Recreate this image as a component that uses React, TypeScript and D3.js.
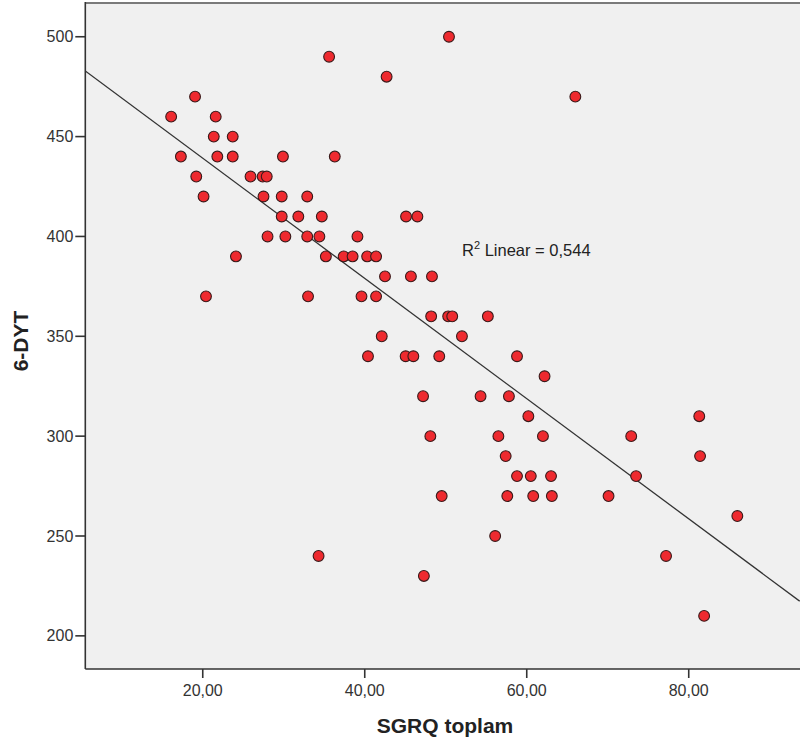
import * as d3 from 'd3';

// SGRQ toplam (x) vs 6-DYT (y)
const sgrq = [
  16.1, 19.05, 21.6, 21.36, 23.7, 17.3, 21.8, 23.7, 29.9, 36.3,
  19.2, 25.9, 27.4, 27.9, 20.1, 27.5, 29.75, 32.9, 29.75, 31.8,
  34.7, 45.1, 46.5, 28.0, 30.2, 32.9, 34.4, 39.1, 24.1, 35.2,
  37.4, 38.5, 40.3, 41.4, 42.5, 45.7, 48.3, 20.4, 33.0, 39.6,
  41.4, 48.2, 50.3, 50.8, 55.2, 42.1, 52.0, 40.4, 45.05, 46.0,
  49.2, 58.8, 62.2, 47.2, 54.3, 57.8, 60.2, 81.3, 48.1, 56.5,
  62.0, 72.9, 57.4, 81.4, 58.8, 60.5, 63.0, 73.5, 49.5, 57.6,
  60.8, 63.1, 70.1, 86.0, 56.1, 34.3, 77.2, 47.3, 81.9, 35.6,
  42.7, 50.4, 66.0,
];
const dyt = [
  460, 470, 460, 450, 450, 440, 440, 440, 440, 440,
  430, 430, 430, 430, 420, 420, 420, 420, 410, 410,
  410, 410, 410, 400, 400, 400, 400, 400, 390, 390,
  390, 390, 390, 390, 380, 380, 380, 370, 370, 370,
  370, 360, 360, 360, 360, 350, 350, 340, 340, 340,
  340, 340, 330, 320, 320, 320, 310, 310, 300, 300,
  300, 300, 290, 290, 280, 280, 280, 280, 270, 270,
  270, 270, 270, 260, 250, 240, 240, 230, 210, 490,
  480, 500, 470,
];

const xTicks = [20, 40, 60, 80];
const yTicks = [200, 250, 300, 350, 400, 450, 500];
const xDomain = [5.5, 93.7];
const yDomain = [183.4, 516.9];

// fit line as shown
const fitIntercept = 499.4;
const fitSlope = -3.01;
const r2Text = '0,544';

const W = 800;
const H = 747;
const PLOT = { left: 85.3, right: 802, top: 3, bottom: 669 };

const fmtX = (v: number) => d3.format('.2f')(v).replace('.', ',');

export default function App() {
  const x = d3.scaleLinear().domain(xDomain).range([PLOT.left, 799.7]);
  const y = d3.scaleLinear().domain(yDomain).range([PLOT.bottom, PLOT.top]);
  const points = sgrq.map((v, i) => ({ x: v, y: dyt[i] }));

  const font = '"Liberation Sans", Arial, sans-serif';

  return (
    <svg width={W} height={H} style={{ position: 'absolute', left: 0, top: 0 }} fontFamily={font}>
      <rect x={0} y={0} width={W} height={H} fill="#fff" />
      <defs>
        <clipPath id="plot-clip">
          <rect x={PLOT.left} y={PLOT.top} width={PLOT.right - PLOT.left} height={PLOT.bottom - PLOT.top} />
        </clipPath>
      </defs>
      <rect x={PLOT.left} y={PLOT.top} width={PLOT.right - PLOT.left} height={PLOT.bottom - PLOT.top} fill="#f0f0f0" />

      {/* fit line */}
      <line
        clipPath="url(#plot-clip)"
        x1={x(xDomain[0])} y1={y(fitIntercept + fitSlope * xDomain[0])}
        x2={x(xDomain[1])} y2={y(fitIntercept + fitSlope * xDomain[1])}
        stroke="#333" strokeWidth={1.3}
      />

      {/* points */}
      <g clipPath="url(#plot-clip)">
        {points.map((d, i) => (
          <circle key={i} cx={x(d.x)} cy={y(d.y)} r={5.4} fill="#ee2a2f" stroke="#3a1a1a" strokeWidth={1.1} />
        ))}
      </g>

      <text x={462} y={256} fontSize={16.5} fill="#222">
        R<tspan fontSize={11} dy={-7}>2</tspan>
        <tspan dy={7}> Linear = {r2Text}</tspan>
      </text>

      {/* frame */}
      <line x1={PLOT.left} x2={W} y1={PLOT.top} y2={PLOT.top} stroke="#7a7a7a" strokeWidth={2} />
      <line x1={PLOT.left} x2={PLOT.left} y1={PLOT.top - 1} y2={PLOT.bottom} stroke="#333" strokeWidth={1.6} />
      <line x1={PLOT.left} x2={W} y1={PLOT.bottom} y2={PLOT.bottom} stroke="#333" strokeWidth={1.6} />

      {/* y axis */}
      {yTicks.map(t => (
        <g key={t} transform={`translate(0,${y(t)})`}>
          <line x1={PLOT.left - 10} x2={PLOT.left} stroke="#333" strokeWidth={1.6} />
          <text x={PLOT.left - 12} dy="0.35em" textAnchor="end" fontSize={16} fill="#333">{t}</text>
        </g>
      ))}

      {/* x axis */}
      {xTicks.map(t => (
        <g key={t} transform={`translate(${x(t)},0)`}>
          <line y1={PLOT.bottom} y2={PLOT.bottom + 9} stroke="#333" strokeWidth={1.6} />
          <text y={PLOT.bottom + 27} textAnchor="middle" fontSize={16} fill="#333">{fmtX(t)}</text>
        </g>
      ))}

      <text x={445} y={733} textAnchor="middle" fontSize={21} fontWeight="bold" fill="#222">SGRQ toplam</text>
      <text transform="translate(28,341) rotate(-90)" textAnchor="middle" fontSize={21} fontWeight="bold" fill="#222">6-DYT</text>
    </svg>
  );
}
